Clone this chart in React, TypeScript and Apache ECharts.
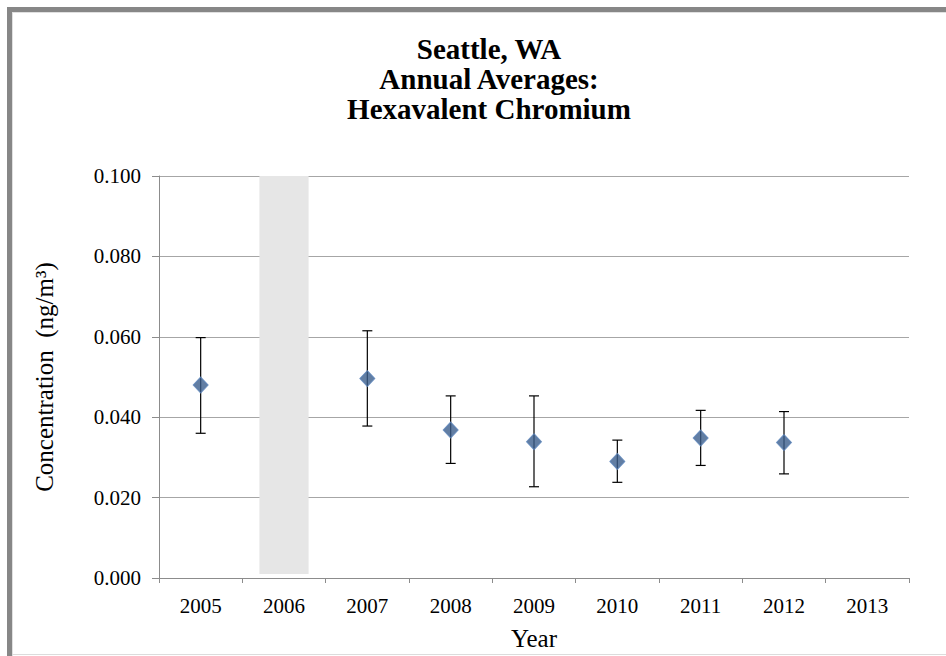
import React, { useEffect, useRef } from "react";
import * as echarts from "echarts";

const years = ["2005", "2006", "2007", "2008", "2009", "2010", "2011", "2012", "2013"];
const means = [0.048, null, 0.0496, 0.0368, 0.0339, 0.029, 0.0348, 0.0337, null];
const upper = [0.0598, null, 0.0615, 0.0453, 0.0453, 0.0343, 0.0417, 0.0414, null];
const lower = [0.036, null, 0.0378, 0.0285, 0.0227, 0.0238, 0.028, 0.0259, null];
const noDataBase = [null, 0.001, null, null, null, null, null, null, null];
const noDataSpan = [null, 0.099, null, null, null, null, null, null, null];
const yTicks = [0, 0.02, 0.04, 0.06, 0.08, 0.1];

const titleLines = ["Seattle, WA", "Annual Averages:", "Hexavalent Chromium"];
const serif = "'Liberation Serif', 'Times New Roman', serif";

export default function App() {
  const ref = useRef<HTMLDivElement>(null);
  useEffect(() => {
    if (!ref.current) return;
    const chart = echarts.init(ref.current, null, { renderer: "svg" });
    const errData = years.map((y, i) => [i, lower[i], upper[i]]).filter((d) => d[1] != null);
    chart.setOption({
      animation: false,
      backgroundColor: "#ffffff",
      textStyle: { fontFamily: serif },
      title: {
        text: titleLines.join("\n"),
        left: 484,
        top: 29,
        textAlign: "center",
        textStyle: { fontFamily: serif, fontWeight: "bold", fontSize: 29, lineHeight: 30, color: "#000" },
      },
      grid: { left: 159, right: 37, top: 176, bottom: 71, containLabel: false },
      xAxis: {
        type: "category",
        data: years,
        boundaryGap: true,
        name: "Year",
        nameLocation: "middle",
        nameGap: 48,
        nameTextStyle: { fontFamily: serif, fontSize: 25, color: "#000" },
        axisLine: { lineStyle: { color: "#8c8c8c", width: 1 } },
        axisTick: { show: true, length: 5, alignWithLabel: false, lineStyle: { color: "#8c8c8c" } },
        axisLabel: { fontFamily: serif, fontSize: 21, color: "#000", margin: 17 },
        splitLine: { show: false },
      },
      yAxis: {
        type: "value",
        min: 0,
        max: 0.1,
        interval: 0.02,
        name: "Concentration  (ng/m³)",
        nameLocation: "middle",
        nameGap: 102,
        nameTextStyle: { fontFamily: serif, fontSize: 25, color: "#000" },
        axisLine: { show: true, lineStyle: { color: "#8c8c8c", width: 1 } },
        axisTick: { show: true, length: 7, lineStyle: { color: "#8c8c8c" } },
        axisLabel: {
          fontFamily: serif,
          fontSize: 21,
          color: "#000",
          margin: 18,
          formatter: (v: number) => (yTicks.some((t) => Math.abs(t - v) < 1e-9) ? v.toFixed(3) : ""),
        },
        splitLine: { show: true, lineStyle: { color: "#a6a6a6", width: 1 } },
      },
      graphic: [
        { type: "rect", shape: { x: 7, y: 7, width: 5, height: 660 }, style: { fill: "#878787" }, z: 100 },
        { type: "rect", shape: { x: 7, y: 7, width: 960, height: 5 }, style: { fill: "#878787" }, z: 100 },
        { type: "rect", shape: { x: 12, y: 12, width: 960, height: 1 }, style: { fill: "#e0e0e0" }, z: 100 },
        { type: "rect", shape: { x: 12, y: 12, width: 1, height: 660 }, style: { fill: "#e0e0e0" }, z: 100 },
        { type: "rect", shape: { x: 12, y: 654, width: 960, height: 1 }, style: { fill: "#dcdcdc" }, z: 100 },
      ],
      series: [
        {
          type: "bar",
          stack: "nd",
          data: noDataBase,
          barWidth: "59%",
          itemStyle: { color: "transparent" },
          silent: true,
        },
        {
          type: "bar",
          stack: "nd",
          data: noDataSpan,
          barWidth: "59%",
          itemStyle: { color: "#e6e6e6" },
          silent: true,
        },
        {
          type: "custom",
          data: errData,
          z: 5,
          renderItem: (params: any, api: any) => {
            const x = api.value(0);
            const lo = api.coord([x, api.value(1)]);
            const hi = api.coord([x, api.value(2)]);
            const hw = 5;
            const st = { stroke: "#000", lineWidth: 1.2 };
            return {
              type: "group",
              children: [
                { type: "line", shape: { x1: lo[0], y1: lo[1], x2: hi[0], y2: hi[1] }, style: st },
                { type: "line", shape: { x1: hi[0] - hw, y1: hi[1], x2: hi[0] + hw, y2: hi[1] }, style: st },
                { type: "line", shape: { x1: lo[0] - hw, y1: lo[1], x2: lo[0] + hw, y2: lo[1] }, style: st },
              ],
            };
          },
        },
        {
          type: "scatter",
          data: means,
          symbol: "diamond",
          symbolSize: [15, 16],
          z: 10,
          itemStyle: { color: "#3b5e8c", borderColor: "#5b85bb", borderWidth: 1 },
        },
      ],
    });
    return () => chart.dispose();
  }, []);
  return (
    <div
      ref={ref}
      style={{ position: "fixed", left: 0, top: 0, width: 946, height: 656, background: "#fff" }}
    />
  );
}
